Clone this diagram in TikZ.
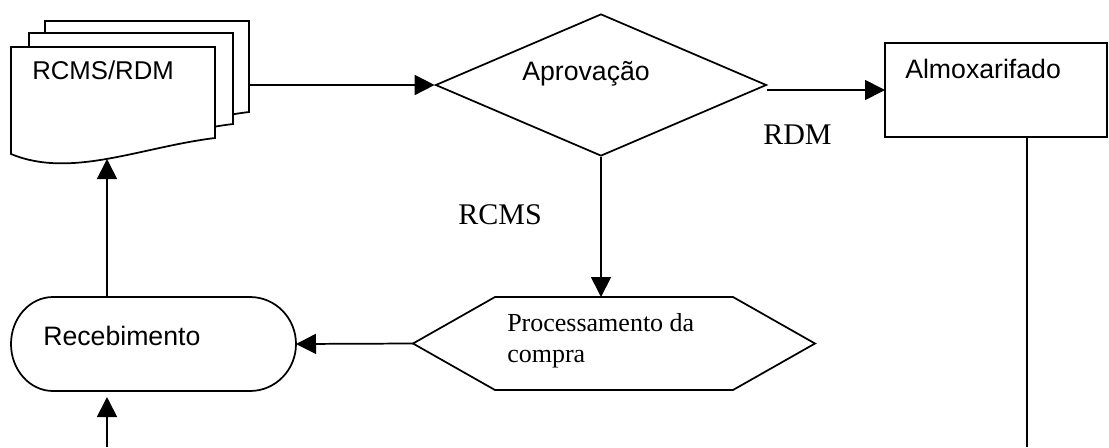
\documentclass[tikz,border=0pt]{standalone}
\usepackage{fontspec}
\setmainfont{Liberation Serif}
\newfontfamily\arialfont{Liberation Sans}
\usetikzlibrary{arrows.meta,shapes.geometric,calc}
\tikzset{
  ln/.style={line width=1.3pt},
  arr/.style={ln,-{Triangle[length=15pt,width=15pt]}},
  sanslabel/.style={inner sep=0pt,font=\arialfont\fontsize{20pt}{24pt}\selectfont},
  seriflabel/.style={inner sep=0pt,font=\fontsize{22.5pt}{26pt}\selectfont},
  hexlabel/.style={inner sep=0pt,align=left,font=\fontsize{19.5pt}{23.5pt}\selectfont},
  frame/.style={rectangle,inner sep=0pt,outer sep=0pt},
  docframe/.style={frame,anchor=north west,minimum width=153pt,minimum height=68.25pt},
  docfill/.style={ln,fill=white,draw=black}
}
\newcommand{\drawdoc}[1]{%
  \filldraw[docfill] (#1.north west) -- (#1.north east) -- (#1.south east)
    .. controls ($(#1.north west)+(130,100)$) and ($(#1.north west)+(60,132)$) ..
    ($(#1.north west)+(0,107)$) -- cycle;}
\begin{document}
\begin{tikzpicture}[x=0.75pt,y=-0.75pt]
\useasboundingbox (0,0) rectangle (1109,447);

% stacked documents
\node[docframe] (docA) at (45,21) {};
\node[docframe] (docB) at (29,33) {};
\node[docframe] (docC) at (11,47) {};
\drawdoc{docA}
\drawdoc{docB}
\drawdoc{docC}
\node[sanslabel,anchor=base west,font=\arialfont\fontsize{19.3pt}{24pt}\selectfont] (docT) at (32,79) {RCMS/RDM};

% decision
\node[ln,draw,diamond,minimum width=248.25pt,minimum height=106.5pt,inner sep=0pt] (dia) at (601,85) {};
\node[sanslabel,anchor=base west] (diaT) at (522,80) {Aprovação};

% Almoxarifado box
\node[ln,draw,frame,minimum width=166.5pt,minimum height=70.5pt] (box) at (996,90) {};
\node[sanslabel,anchor=base west] (boxT) at (905,78) {Almoxarifado};

% labels
\node[seriflabel,anchor=base west] (rdm) at (763,144) {RDM};
\node[seriflabel,anchor=base east] (rcms) at (542,224) {RCMS};

% hexagon
\node[frame,minimum width=301.5pt,minimum height=69.75pt] (hex) at (614,343.5) {};
\draw[ln] (hex.west) -- ($(hex.north west)+(82,0)$) -- ($(hex.north east)+(-82,0)$)
  -- (hex.east) -- ($(hex.south east)+(-82,0)$) -- ($(hex.south west)+(82,0)$) -- cycle;
\node[hexlabel,anchor=north west] (hexT) at (507,313) {Processamento da\\compra};

% terminal
\node[frame,minimum width=213.75pt,minimum height=70.5pt] (rec) at (153.5,344) {};
\draw[ln] ($(rec.north west)+(42,0)$) -- ($(rec.north east)+(-46,0)$)
  arc[start angle=90,end angle=-90,x radius=34.5pt,y radius=35.25pt]
  -- ($(rec.south west)+(42,0)$)
  arc[start angle=270,end angle=90,x radius=31.5pt,y radius=35.25pt] -- cycle;
\node[sanslabel,anchor=base west] (recT) at (43,345) {Recebimento};

% connectors
\coordinate (doctip) at (107,159);
\coordinate (inflow) at (107,447);
\coordinate (intip) at (107,397);
\coordinate (outflow) at (1027,447);

\draw[arr] (docA.east |- dia.west) -- (dia.west);
\draw[arr] (dia.east |- box.west) -- (box.west);
\draw[arr] (dia.south) -- (dia.south |- hex.north);
\draw[arr] (hex.west) -- (rec.east);
\draw[arr] (doctip |- rec.north) -- (doctip);
\draw[arr] (inflow) -- (intip);
\draw[ln] (outflow |- box.south) -- (outflow);
\end{tikzpicture}
\end{document}
